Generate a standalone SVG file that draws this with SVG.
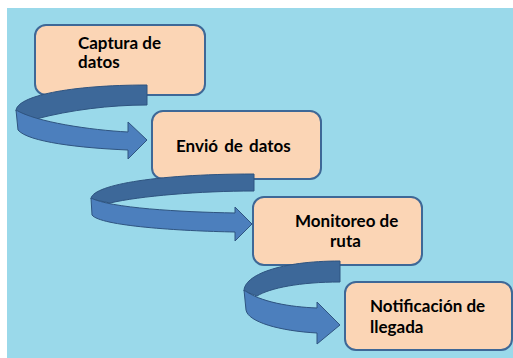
<svg xmlns="http://www.w3.org/2000/svg" width="513" height="358" viewBox="0 0 513 358">
<style>
.box{fill:#fbd5b5;stroke:#3e6897;stroke-width:2}
.t{font-family:Lato,"Liberation Sans",sans-serif;font-weight:bold;font-size:17px;fill:#000}
.back{fill:#3d6899;stroke:#2f5480;stroke-width:1}
.front{fill:#4c7fbd;stroke:#2f5480;stroke-width:1}
</style>
<rect x="0" y="0" width="513" height="358" fill="#ffffff"/>
<rect x="7" y="8" width="506" height="350" fill="#9ad9ea"/>
<g id="node1">
<rect class="box" x="35" y="25" width="170" height="70" rx="11"/>
<text class="t" x="78" y="49">Captura de</text>
<text class="t" x="78" y="68">datos</text>
</g>
<g id="node2">
<rect class="box" x="152" y="111" width="169" height="68" rx="11"/>
<text class="t" x="176" y="152" word-spacing="2">Envió de datos</text>
</g>
<g id="node3">
<rect class="box" x="253" y="197" width="169" height="68" rx="11"/>
<text class="t" x="295" y="227">Monitoreo de</text>
<text class="t" x="330" y="247">ruta</text>
</g>
<g id="node4">
<rect class="box" x="345" y="282" width="167" height="68" rx="11"/>
<text class="t" x="370" y="312">Notificación de</text>
<text class="t" x="370" y="333">llegada</text>
</g>
<g id="connectors">
<g id="arrow1">
<path class="back" d="M147,85 C70,85 16,96 16,111 L36,119 C70,110 110,105 147,105 Z"/>
<path class="front" d="M16,110 C36,122 90,130 128,132 L128,122 L147,140 L128,159 L128,150 C80,148 28,142 18,130 Z"/>
</g>
<g id="arrow2">
<path class="back" d="M254,174 C150,174 91,186 91,199 L110,203 C140,196 200,191 254,191 Z"/>
<path class="front" d="M91,198 C110,208 180,212 235,213 L235,207 L252,224 L235,241 L235,232 C180,231 100,226 92,215 Z"/>
</g>
<g id="arrow3">
<path class="back" d="M340,261 C280,261 244,275 244,291 L257,296 C270,288 300,282 340,282 Z"/>
<path class="front" d="M244,290 C260,302 290,307 317,308 L317,302 L340,325 L317,344 L317,333 C280,331 248,322 246,310 Z"/>
</g>
</g>
</svg>
